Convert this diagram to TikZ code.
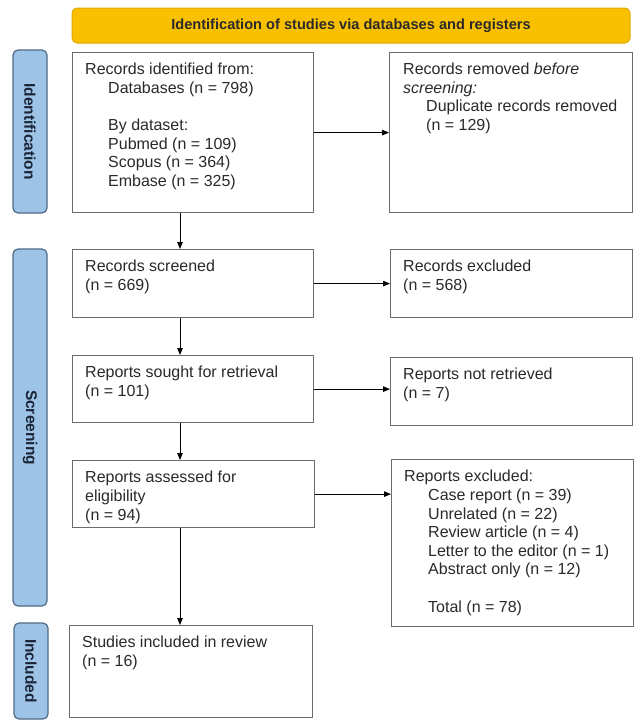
\documentclass[tikz,border=0pt]{standalone}
\usepackage{fontspec}
\setmainfont{Liberation Sans}
\usetikzlibrary{arrows.meta}
\definecolor{boxgray}{HTML}{6C6C6C}
\definecolor{textc}{HTML}{2A2A2A}
\definecolor{bannerfill}{HTML}{F9C000}
\definecolor{bannerdraw}{HTML}{E0A800}
\definecolor{sidefill}{HTML}{9DC3E6}
\definecolor{sidedraw}{HTML}{4F6A86}
\definecolor{navy}{HTML}{1A2436}
\tikzset{
  box/.style={draw=boxgray, line width=1.2pt, fill=white, inner sep=0pt, anchor=north west},
  txt/.style={anchor=north west, inner sep=0pt, align=left, text=textc,
    font=\fontsize{16}{18.6}\selectfont},
  banner/.style={draw=bannerdraw, fill=bannerfill, rounded corners=5pt, line width=1pt,
    inner sep=0pt, text=textc, font=\bfseries\fontsize{14.6}{16}\selectfont},
  side/.style={draw=sidedraw, fill=sidefill, rounded corners=5pt, line width=1.2pt,
    inner sep=0pt, rotate=-90, text=navy, font=\bfseries\fontsize{15.5}{17}\selectfont},
  arr/.style={-{Triangle[length=7pt,width=5.5pt]}, line width=0.9pt, draw=black}
}
\newcommand\mybox[5]{\node[box, minimum width=#4pt, minimum height=#5pt] (#1) at (#2,#3) {};}
\begin{document}
\begin{tikzpicture}[x=1pt,y=-1pt]
\useasboundingbox (0,0) rectangle (644,728);
% banner
\node[banner, minimum width=558pt, minimum height=35pt] (ban) at (351,25.5)
  {Identification of studies via databases and registers};
% side labels
\node[side, minimum width=163pt, minimum height=34pt] (sid) at (30,131.5) {Identification};
\node[side, minimum width=357pt, minimum height=34pt] (sscr) at (30,427.5) {Screening};
\node[side, minimum width=96pt, minimum height=34pt] (sinc) at (31,671) {Included};
% boxes
\mybox{b1}{72}{52}{241}{160}
\mybox{b2}{389}{52}{243}{160}
\mybox{b3}{72}{249}{241}{68}
\mybox{b4}{390}{249}{242}{68}
\mybox{b5}{72}{355}{241}{67}
\mybox{b6}{390}{357}{242}{68}
\mybox{b7}{72}{460}{242}{67}
\mybox{b8}{391}{459}{242}{167}
\mybox{b9}{69}{625}{243}{92}
% texts
\node[txt, xshift=13pt, yshift=-11pt] (t1) at (b1.north west)
  {Records identified from:\\
   \hspace*{23pt}Databases (n = 798)\\[18.6pt]
   \hspace*{23pt}By dataset:\\
   \hspace*{23pt}Pubmed (n = 109)\\
   \hspace*{23pt}Scopus (n = 364)\\
   \hspace*{23pt}Embase (n = 325)};
\node[txt, xshift=14pt, yshift=-11pt] (t2) at (b2.north west)
  {Records removed \textit{before}\\
   \textit{screening:}\\
   \hspace*{23pt}Duplicate records removed\\
   \hspace*{23pt}(n = 129)};
\node[txt, xshift=13pt, yshift=-11pt] (t3) at (b3.north west)
  {Records screened\\(n = 669)};
\node[txt, xshift=13pt, yshift=-11pt] (t4) at (b4.north west)
  {Records excluded\\(n = 568)};
\node[txt, xshift=13pt, yshift=-11pt] (t5) at (b5.north west)
  {Reports sought for retrieval\\(n = 101)};
\node[txt, xshift=13pt, yshift=-11pt] (t6) at (b6.north west)
  {Reports not retrieved\\(n = 7)};
\node[txt, xshift=13pt, yshift=-11pt] (t7) at (b7.north west)
  {Reports assessed for\\eligibility\\(n = 94)};
\node[txt, xshift=13pt, yshift=-11pt] (t8) at (b8.north west)
  {Reports excluded:\\
   \hspace*{24pt}Case report (n = 39)\\
   \hspace*{24pt}Unrelated (n = 22)\\
   \hspace*{24pt}Review article (n = 4)\\
   \hspace*{24pt}Letter to the editor (n = 1)\\
   \hspace*{24pt}Abstract only (n = 12)\\[18.6pt]
   \hspace*{24pt}Total (n = 78)};
\node[txt, xshift=13pt, yshift=-11pt] (t9) at (b9.north west)
  {Studies included in review\\(n = 16)};
% arrows
\coordinate (ax) at (180,0);
\draw[arr] (b1.east) -- (b1.east -| b2.west);
\draw[arr] (b3.east) -- (b3.east -| b4.west);
\draw[arr] (b5.east) -- (b5.east -| b6.west);
\draw[arr] (b7.east) -- (b7.east -| b8.west);
\draw[arr] (b1.south -| ax) -- (b3.north -| ax);
\draw[arr] (b3.south -| ax) -- (b5.north -| ax);
\draw[arr] (b5.south -| ax) -- (b7.north -| ax);
\draw[arr] (b7.south -| ax) -- (b9.north -| ax);
\end{tikzpicture}
\end{document}
